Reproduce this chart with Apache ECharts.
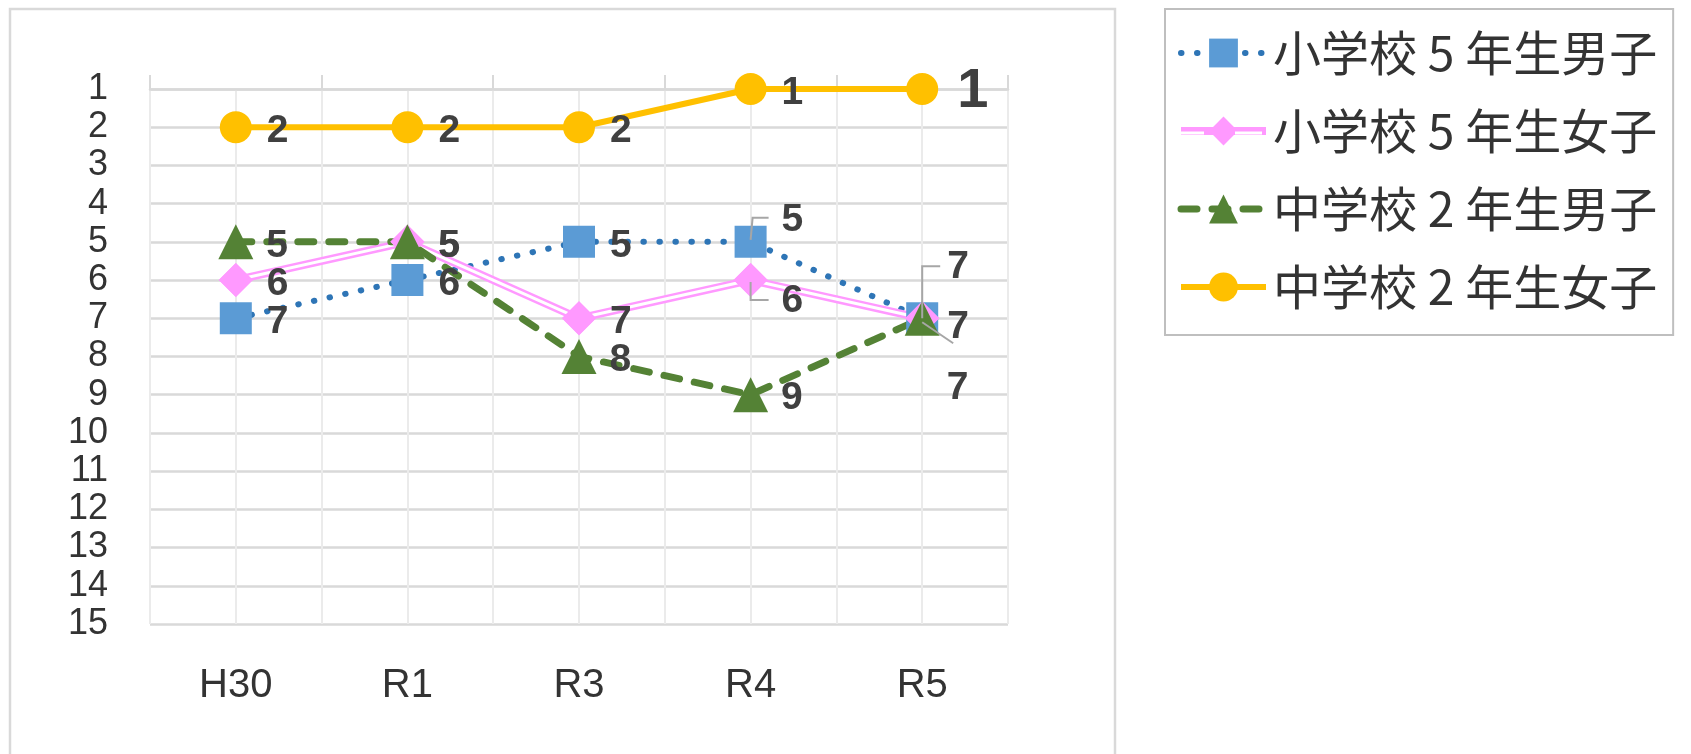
<!DOCTYPE html>
<html><head><meta charset="utf-8">
<script src="https://cdn.jsdelivr.net/npm/echarts@6/dist/echarts.min.js"></script>
<style>html,body{margin:0;padding:0;background:#fff}#c{width:1691px;height:754px}</style>
</head><body><div id="c"></div>
<script>
// ---- data ----
const categories = ['H30', 'R1', 'R3', 'R4', 'R5'];
const seriesNames = ['小学校 5 年生男子', '小学校 5 年生女子', '中学校 2 年生男子', '中学校 2 年生女子'];
const elemBoys5 = [7, 6, 5, 5, 7];
const elemGirls5 = [6, 5, 7, 6, 7];
const juniorBoys2 = [5, 5, 8, 9, 7];
const juniorGirls2 = [2, 2, 2, 1, 1];
const rankMin = 1, rankMax = 15;

// ---- label adjustments (style only) ----
const labelMoves = {
  s0: {3: {offset: [0, -22]}, 4: {offset: [-6, -51]}},
  s1: {3: {offset: [0, 21]}, 4: {offset: [-6, 9]}},
  s2: {4: {offset: [-6, 70]}},
  s3: {4: {offset: [4, 3], fontSize: 56}}
};
function items(arr, key) {
  return arr.map((v, i) => {
    const m = labelMoves[key][i];
    return m ? {value: v, label: m} : v;
  });
}
const labelBase = {
  show: true, position: 'right', offset: [0, 4],
  color: '#404040', fontWeight: 'bold', fontSize: 39,
  fontFamily: 'Liberation Sans, Arial, sans-serif'
};

const styles = {
  blue: {color: '#2E75B6', width: 6, type: [0.5, 15.5], cap: 'round'},
  pink: {color: '#FF99FF', width: 8},
  green: {color: '#548235', width: 7, type: [16, 15], cap: 'round'},
  orange: {color: '#FFC000', width: 6}
};

const chart = echarts.init(document.getElementById('c'), null, {renderer: 'canvas'});
const axisFont = 'Liberation Sans, Arial, sans-serif';
const option = {
  backgroundColor: '#fff',
  animation: false,
  grid: {left: 150, right: 683, top: 89, bottom: 130},
  legend: {
    data: [
      {name: seriesNames[0], lineStyle: styles.blue},
      {name: seriesNames[1], lineStyle: styles.pink},
      {name: seriesNames[2], lineStyle: styles.green},
      {name: seriesNames[3], lineStyle: styles.orange}
    ],
    orient: 'vertical',
    left: 1165, top: 9,
    padding: [20, 16, 24, 12],
    borderColor: '#bfbfbf', borderWidth: 2,
    itemWidth: 85, itemHeight: 36, itemGap: 30,
    textStyle: {fontSize: 48, lineHeight: 44, color: '#333', fontFamily: 'Noto Sans CJK JP', padding: [0, 0, 0, 2]}
  },
  xAxis: [
    {
      type: 'category', data: categories, position: 'top', boundaryGap: true,
      axisLine: {show: true, lineStyle: {color: '#d9d9d9', width: 2.5}},
      axisTick: {show: true, length: 14, lineStyle: {color: '#d9d9d9', width: 2}},
      axisLabel: {show: false}, splitLine: {show: false}
    },
    {
      type: 'category', data: categories, position: 'bottom', boundaryGap: true,
      axisLine: {show: false}, axisTick: {show: false}, splitLine: {show: false},
      axisLabel: {show: true, fontSize: 40, color: '#333', margin: 42, fontFamily: axisFont}
    },
    {
      type: 'value', min: 0, max: categories.length * 2, interval: 1, position: 'bottom',
      axisLine: {show: false}, axisTick: {show: false}, axisLabel: {show: false},
      splitLine: {show: true, lineStyle: {color: '#ebebeb', width: 2}}
    }
  ],
  yAxis: {
    type: 'value', inverse: true, min: rankMin, max: rankMax, interval: 1,
    axisLine: {show: false}, axisTick: {show: false},
    axisLabel: {fontSize: 36, color: '#333', margin: 42, fontFamily: axisFont},
    splitLine: {lineStyle: {color: '#d9d9d9', width: 2.5}}
  },
  series: [
    {
      name: seriesNames[0], type: 'line', data: items(elemBoys5, 's0'),
      symbol: 'rect', symbolSize: 32,
      itemStyle: {color: '#5B9BD5'},
      lineStyle: styles.blue,
      label: Object.assign({}, labelBase, {distance: 15})
    },
    {
      name: seriesNames[1], type: 'line', data: elemGirls5,
      symbol: 'diamond', symbolSize: 34,
      itemStyle: {color: '#FF99FF'},
      lineStyle: styles.pink
    },
    {
      name: 'pink-inner', type: 'line', data: elemGirls5, silent: true,
      symbol: 'none', lineStyle: {color: '#ffffff', width: 3}
    },
    {
      name: 'pink-marks', type: 'line', data: items(elemGirls5, 's1'), silent: true,
      symbol: 'diamond', symbolSize: 34,
      itemStyle: {color: '#FF99FF'},
      lineStyle: {width: 0, opacity: 0},
      label: Object.assign({}, labelBase, {distance: 14})
    },
    {
      name: seriesNames[2], type: 'line', data: items(juniorBoys2, 's2'),
      symbol: 'triangle', symbolSize: 35,
      itemStyle: {color: '#548235'},
      lineStyle: styles.green,
      label: Object.assign({}, labelBase, {distance: 13})
    },
    {
      name: seriesNames[3], type: 'line', data: items(juniorGirls2, 's3'),
      symbol: 'circle', symbolSize: 32,
      itemStyle: {color: '#FFC000'},
      lineStyle: styles.orange,
      label: Object.assign({}, labelBase, {distance: 15})
    }
  ],
  graphic: [
    {id: 'frame', type: 'rect', shape: {x: 10, y: 9, width: 1105, height: 760},
     style: {fill: 'none', stroke: '#d9d9d9', lineWidth: 2.5}, z: -1, silent: true}
  ]
};
chart.setOption(option);

// leader lines for moved labels, from data points through the library's scales
function px(seriesIndex, arr, i) {
  return chart.convertToPixel({seriesIndex: seriesIndex}, [i, arr[i]]);
}
const lineStyle = {stroke: '#a6a6a6', lineWidth: 2, fill: 'none'};
const a = px(0, elemBoys5, 3);
const b = px(1, elemGirls5, 3);
const c = px(0, elemBoys5, 4);
const d = px(1, elemGirls5, 4);
const gfx = [
  {id: 'l1', type: 'polyline', z: 100, silent: true,
   shape: {points: [[a[0], a[1] - 2], [a[0] + 2, a[1] - 24], [a[0] + 18, a[1] - 24]]}, style: lineStyle},
  {id: 'l2', type: 'polyline', z: 100, silent: true,
   shape: {points: [[b[0], b[1] + 2], [b[0], b[1] + 20], [b[0] + 18, b[1] + 20]]}, style: lineStyle},
  {id: 'l3', type: 'polyline', z: 100, silent: true,
   shape: {points: [[c[0], c[1]], [c[0], c[1] - 52], [c[0] + 18, c[1] - 52]]}, style: lineStyle},
  {id: 'l4', type: 'polyline', z: 100, silent: true,
   shape: {points: [[d[0], d[1] + 4], [d[0] + 31, d[1] + 25]]}, style: lineStyle}
];
// white centre of the double pink line in the legend icon (second legend row)
const legendY = 133;
gfx.push({id: 'lg1', type: 'line', z: 100, silent: true,
  shape: {x1: 1177, y1: legendY, x2: 1204, y2: legendY}, style: {stroke: '#fff', lineWidth: 3}});
gfx.push({id: 'lg2', type: 'line', z: 100, silent: true,
  shape: {x1: 1235, y1: legendY, x2: 1262, y2: legendY}, style: {stroke: '#fff', lineWidth: 3}});
chart.setOption({graphic: gfx});
</script>
</body></html>
